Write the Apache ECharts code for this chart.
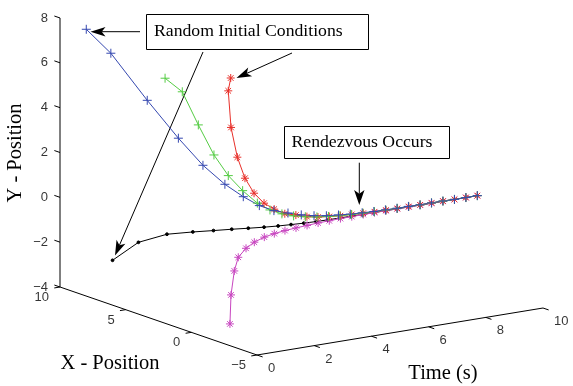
<!DOCTYPE html>
<html>
<head>
<meta charset="utf-8">
<script src="https://cdn.jsdelivr.net/npm/echarts@6/dist/echarts.min.js"></script>
<style>
html, body { margin: 0; padding: 0; background: #fff; }
#main { width: 573px; height: 386px; }
</style>
</head>
<body>
<div id="main"></div>
<script>
// sample times (s)
var time = [0, 0.4, 0.8, 1.2, 1.6, 2, 2.4, 2.8, 3.2, 3.6, 4, 4.4, 4.8, 5.2, 5.6, 6, 6.4, 6.8, 7.2, 7.6, 8, 8.4, 8.8, 9.2, 9.6, 10];

// agent positions
var blueX = [8.0, 7.0, 5.1, 3.6, 2.6, 1.8, 1.27, 0.92, 0.68, 0.48, 0.34, 0.24, 0.17, 0.12, 0.09, 0.06, 0.04, 0.03, 0.02, 0.02, 0.01, 0.01, 0.01, 0, 0, 0];
var blueY = [7.9, 6.95, 5.15, 3.68, 2.59, 1.82, 1.29, 0.88, 0.62, 0.47, 0.33, 0.23, 0.16, 0.12, 0.08, 0.06, 0.04, 0.03, 0.02, 0.02, 0.01, 0.01, 0.01, 0, 0, 0];
var greenX = [2.0, 1.56, 1.21, 0.89, 0.67, 0.45, 0.2, 0.11, 0.07, 0.05, 0.03, 0.02, 0.01, 0.01, 0.01, 0, 0, 0, 0, 0, 0, 0, 0, 0, 0, 0];
var greenY = [6.93, 6.33, 4.84, 3.48, 2.52, 1.81, 1.22, 0.85, 0.6, 0.43, 0.31, 0.22, 0.16, 0.11, 0.08, 0.06, 0.04, 0.03, 0.02, 0.02, 0.01, 0.01, 0.01, 0, 0, 0];
var redX = [-3.0, -1.94, -1.28, -0.89, -0.6, -0.42, -0.31, -0.21, -0.15, -0.12, -0.09, -0.06, -0.05, -0.03, -0.02, -0.02, -0.01, -0.01, -0.01, 0, 0, 0, 0, 0, 0, 0];
var redY = [7.95, 7.08, 5.23, 3.74, 2.66, 1.87, 1.32, 0.95, 0.65, 0.5, 0.34, 0.23, 0.17, 0.12, 0.09, 0.06, 0.04, 0.03, 0.02, 0.02, 0.01, 0.01, 0.01, 0, 0, 0];
var blackX = [6.0, 4.9, 3.6, 2.5, 1.8, 1.28, 0.89, 0.56, 0.36, 0.25, 0.15, 0.09, 0.06, 0.04, 0.03, 0.02, 0.01, 0.01, 0, 0, 0, 0, 0, 0, 0, 0];
var blackY = [-2.0, -1.06, -0.52, -0.28, -0.16, -0.08, -0.04, -0.01, 0, 0, 0, 0, 0, 0, 0, 0, 0, 0, 0, 0, 0, 0, 0, 0, 0, 0];
var magentaX = [-2.94, -2.15, -1.53, -0.96, -0.68, -0.44, -0.33, -0.22, -0.16, -0.13, -0.1, -0.07, -0.05, -0.03, -0.02, -0.02, -0.01, -0.01, 0, 0, 0, 0, 0, 0, 0, 0];
var magentaY = [-3.03, -1.98, -1.12, -0.71, -0.45, -0.31, -0.19, -0.14, -0.1, -0.07, -0.05, -0.03, -0.02, -0.01, -0.01, 0, 0, 0, 0, 0, 0, 0, 0, 0, 0, 0];

// tick labels
var tTicks = [0, 2, 4, 6, 8, 10];
var xTicks = [-5, 0, 5, 10];
var yTicks = [-4, -2, 0, 2, 4, 6, 8];

// 3-D view: pixel of the corner (t=0, x=-5, y=-4) and one unit step along each axis
var corner = [257, 355];
var stepT = [28.6, -4.7];
var stepX = [-13.133, -4.533];
var stepY = [0, -22.42];

function proj(t, x, y) {
  return [
    corner[0] + stepT[0] * t + stepX[0] * (x + 5) + stepY[0] * (y + 4),
    corner[1] + stepT[1] * t + stepX[1] * (x + 5) + stepY[1] * (y + 4)
  ];
}

function fmt(v) {
  return v < 0 ? '\u2212' + Math.abs(v) : String(v);
}

var plusPath = 'path://M5,0L5,10M0,5L10,5';
var starPath = 'path://M5,0L5,10M0,5L10,5M1.5,1.5L8.5,8.5M1.5,8.5L8.5,1.5';

function track(name, xs, ys, color, symbol, size) {
  return {
    type: 'line',
    name: name,
    data: time.map(function (t, i) { return proj(t, xs[i], ys[i]); }),
    symbol: symbol,
    symbolSize: size,
    showSymbol: true,
    lineStyle: { color: color, width: 1 },
    itemStyle: { color: color, borderColor: color, borderWidth: 1 },
    silent: true
  };
}

function tickLabels(points, texts, align, offset) {
  return {
    type: 'scatter',
    symbolSize: 1,
    itemStyle: { color: 'rgba(0,0,0,0)' },
    data: points.map(function (p, i) { return { value: p, name: texts[i] }; }),
    label: {
      show: true,
      position: 'inside',
      align: align,
      verticalAlign: 'middle',
      offset: offset,
      formatter: function (p) { return p.name; },
      fontFamily: 'Liberation Sans',
      fontSize: 13,
      color: '#000'
    },
    silent: true
  };
}

// axis frame and ticks (ticks point outward like MATLAB's 3-D axes)
var frame = [proj(0, 10, 8), proj(0, 10, -4), proj(0, -5, -4), proj(10, -5, -4)];
var ticks = [];
yTicks.forEach(function (v) { ticks.push({ coords: [proj(0, 10, v), proj(0, 10.43, v)] }); });
xTicks.forEach(function (v) { ticks.push({ coords: [proj(0, v, -4), proj(-0.2, v, -4)] }); });
tTicks.forEach(function (v) { ticks.push({ coords: [proj(v, -5, -4), proj(v, -5.43, -4)] }); });

function arrow(from, to, len, half) {
  var dx = to[0] - from[0], dy = to[1] - from[1];
  var d = Math.sqrt(dx * dx + dy * dy);
  var ux = dx / d, uy = dy / d, px = -uy, py = ux;
  var back = [to[0] - ux * len, to[1] - uy * len];
  var notch = [to[0] - ux * len * 0.75, to[1] - uy * len * 0.75];
  return [
    { type: 'polyline', shape: { points: [from, notch] }, style: { stroke: '#000', lineWidth: 1, fill: null } },
    { type: 'polygon', shape: { points: [to, [back[0] + px * half, back[1] + py * half], notch, [back[0] - px * half, back[1] - py * half]] }, style: { fill: '#000' } }
  ];
}

var serif = '"Liberation Serif", "Times New Roman", serif';
var graphics = [
  { type: 'rect', shape: { x: 146.5, y: 14.5, width: 222, height: 35 }, style: { fill: '#fff', stroke: '#000', lineWidth: 1 } },
  { type: 'text', x: 154, y: 31.5, style: { text: 'Random Initial Conditions', font: '17.7px ' + serif, fill: '#000', align: 'left', verticalAlign: 'middle' } },
  { type: 'rect', shape: { x: 284.5, y: 126.5, width: 165, height: 32 }, style: { fill: '#fff', stroke: '#000', lineWidth: 1 } },
  { type: 'text', x: 291.5, y: 142.5, style: { text: 'Rendezvous Occurs', font: '17.7px ' + serif, fill: '#000', align: 'left', verticalAlign: 'middle' } },
  { type: 'text', x: 15.5, y: 153, rotation: Math.PI / 2, style: { text: 'Y - Position', font: '20.5px ' + serif, fill: '#000', align: 'center', verticalAlign: 'middle' } },
  { type: 'text', x: 110, y: 363.5, style: { text: 'X - Position', font: '20.5px ' + serif, fill: '#000', align: 'center', verticalAlign: 'middle' } },
  { type: 'text', x: 443, y: 374, style: { text: 'Time (s)', font: '20.5px ' + serif, fill: '#000', align: 'center', verticalAlign: 'middle' } }
]
  .concat(arrow([140, 31.7], [90.5, 31.7], 15, 4.8))
  .concat(arrow([203, 52], [115, 255.5], 15, 4.8))
  .concat(arrow([292, 53], [236.5, 78], 15, 4.8))
  .concat(arrow([359.3, 162.7], [359.3, 205], 15, 5.2));

var myChart = echarts.init(document.getElementById('main'));
myChart.setOption({
  animation: false,
  backgroundColor: '#fff',
  grid: { left: 0, right: 0, top: 0, bottom: 0 },
  xAxis: { type: 'value', min: 0, max: 573, show: false },
  yAxis: { type: 'value', min: 0, max: 386, inverse: true, show: false },
  graphic: graphics,
  series: [
    {
      type: 'line',
      data: frame,
      symbol: 'none',
      lineStyle: { color: '#000', width: 1 },
      silent: true
    },
    {
      type: 'lines',
      coordinateSystem: 'cartesian2d',
      data: ticks,
      lineStyle: { color: '#000', width: 1, opacity: 1 },
      silent: true
    },
    tickLabels(yTicks.map(function (v) { return proj(0, 10, v); }), yTicks.map(fmt), 'right', [-12, 0]),
    tickLabels(xTicks.map(function (v) { return proj(0, v, -4); }), xTicks.map(fmt), 'right', [-11, 10.5]),
    tickLabels(tTicks.map(function (v) { return proj(v, -5, -4); }), tTicks.map(fmt), 'left', [11, 13.5]),
    track('Agent 4', blackX, blackY, '#000000', 'circle', 2.8),
    track('Agent 5', magentaX, magentaY, '#c846c0', starPath, 8),
    track('Agent 3', redX, redY, '#e8302a', starPath, 8),
    track('Agent 2', greenX, greenY, '#55cc44', plusPath, 9),
    track('Agent 1', blueX, blueY, '#3548b0', plusPath, 9)
  ]
});
</script>
</body>
</html>
